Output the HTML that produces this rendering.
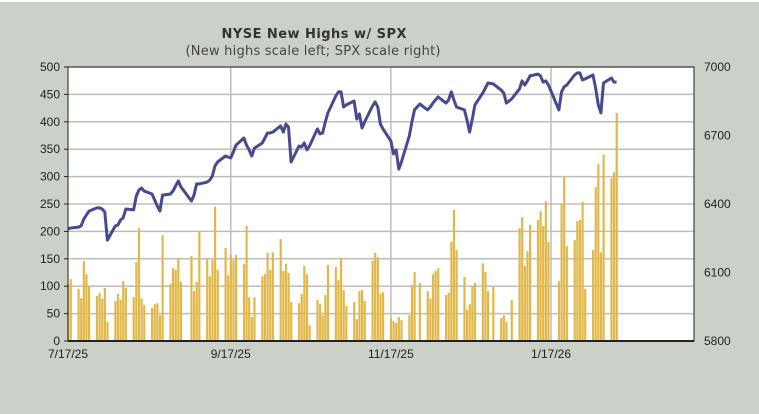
<!DOCTYPE html>
<html><head><meta charset="utf-8"><style>
html,body{margin:0;padding:0;background:#cbd0c9;}
svg{display:block;font-family:"Liberation Sans","DejaVu Sans",sans-serif;}
</style></head><body>
<svg id="chart" width="759" height="414" viewBox="0 0 759 414" xmlns="http://www.w3.org/2000/svg">
<rect x="0" y="0" width="759" height="414" fill="#cbd0c9"/>
<rect x="0" y="0" width="759" height="2" fill="#ffffff"/>
<text x="314" y="38" text-anchor="middle" font-family="DejaVu Sans, sans-serif" font-weight="bold" font-size="13" fill="#333" textLength="185">NYSE New Highs w/ SPX</text>
<text x="313" y="55" text-anchor="middle" font-family="DejaVu Sans, sans-serif" font-size="13" fill="#444" textLength="255">(New highs scale left; SPX scale right)</text>
<rect x="68" y="67" width="626" height="274" fill="#ffffff"/>
<g id="grid"></g><g id="bars"></g><g id="line"></g><g id="axes"></g>
</svg>
<script>
// Weekday series starting Monday 2025-07-14 (null = no trading / no data)
const startMonday = "2025-07-14";
const newHighs = [
null,null,null,105,113, 95,78,146,122,99, 82,88,77,97,35, 73,86,75,109,97,
80,144,206,78,66, 60,67,69,47,193, 104,133,130,151,108, null,155,91,108,201,
150,118,148,245,130, 170,120,157,148,157, 140,210,80,44,80, 118,122,161,130,162,
186,128,141,124,71, 69,86,137,122,29, 75,68,47,84,139, 135,111,151,93,64,
71,40,91,93,73, 146,161,153,86,89, 42,36,33,44,38, 47,102,126,null,106,
91,77,122,128,133, 84,88,181,239,166, 117,57,67,100,106, 142,126,91,null,99,
42,47,35,null,75, 206,226,137,164,212, 221,237,210,255,181, null,109,250,301,173,
184,219,221,254,95, 166,281,323,162,340, 297,308,416
];
const spx = [
null,null,null,6291,6295, 6299,6304,6334,6352,6369, 6383,6383,6378,6365,6242, 6304,6308,6330,6339,6378,
6374,6435,6461,6470,6457, 6444,6418,6391,6369,6439, 6444,6457,6479,6501,6475, null,6413,6439,6488,6488,
6496,6505,6523,6567,6584, 6610,6606,6602,6628,6658, 6689,6658,6637,6610,6645, 6667,6689,6711,6711,6715,
6742,6715,6750,6737,6584, 6654,6650,6667,6637,6654, 6729,6707,6711,6759,6799, 6873,6891,6891,6825,6834,
6851,6772,6794,6733,6759, 6829,6847,6825,6750,6729, 6676,6619,6637,6553,6584, 6698,6759,6812,null,6838,
6812,6825,6842,6856,6869, 6842,6856,6891,6856,6825, 6812,6768,6715,6772,6834, 6886,6908,6930,null,6926,
6899,6886,6842,null,6860, 6904,6939,6921,6939,6961, 6969,6961,6934,6939,6921, null,6812,6891,6913,6921,
6965,6974,6974,6943,6948, 6965,6908,6834,6799,6930, 6952,6934,6934
];
const leftTicks = [0,50,100,150,200,250,300,350,400,450,500];
const rightTicks = [5800,6100,6400,6700,7000];
const xTickLabels = ["7/17/25","9/17/25","11/17/25","1/17/26"];
const xTickDays = [0,62,123,184];

const NS="http://www.w3.org/2000/svg";
const X0=68,X1=694,Y0=67,Y1=341,PXDAY=2.625;
function xDay(d){return X0+d*PXDAY;}
function yLeft(v){return Y1-(v/500)*(Y1-Y0);}
function yRight(v){return Y1-((v-5800)/1200)*(Y1-Y0);}
function dayOfIndex(i){return Math.floor(i/5)*7+(i%5)-3;}
function mk(tag,attrs,parent){const e=document.createElementNS(NS,tag);for(const k in attrs)e.setAttribute(k,attrs[k]);parent.appendChild(e);return e;}
const grid=document.getElementById('grid'),bars=document.getElementById('bars'),line=document.getElementById('line'),axes=document.getElementById('axes');

leftTicks.forEach(t=>{
  const y=yLeft(t);
  if(t>0){const g=mk('line',{x1:X0,x2:X1,y1:y,y2:y,stroke:'#bdbdbd','stroke-width':1.5},grid);
  
  }
  const tk=mk('line',{x1:X0-4,x2:X0,y1:y,y2:y,stroke:'#222','stroke-width':1},axes);
  
  
  const tx=mk('text',{x:X0-8,y:y+4,'text-anchor':'end','font-size':12,fill:'#222'},axes);
  tx.textContent=t;
  
  
});
rightTicks.forEach(t=>{
  const y=yRight(t);
  const tx=mk('text',{x:704,y:y+4,'font-size':12,fill:'#222'},axes);
  tx.textContent=t;
  
  
});
xTickLabels.forEach((lab,i)=>{
  const x=xDay(xTickDays[i]);
  if(i>0){const g=mk('line',{x1:x,x2:x,y1:Y0,y2:Y1,stroke:'#bdbdbd','stroke-width':1.5},grid);
  
  }
  const tx=mk('text',{x:x,y:Y1+17,'text-anchor':'middle','font-size':12,fill:'#222'},axes);
  tx.textContent=lab;
  
  
});
newHighs.forEach((v,i)=>{
  if(v===null)return;
  const x=xDay(dayOfIndex(i));
  const b=mk('rect',{x:x-1,y:yLeft(v),width:2.2,height:Y1-yLeft(v),fill:'#e0b84a'},bars);
  
  
});
let pts=[];
spx.forEach((v,i)=>{if(v===null)return;pts.push(xDay(dayOfIndex(i)).toFixed(1)+','+yRight(v).toFixed(1));});
const pl=mk('polyline',{points:pts.join(' '),fill:'none',stroke:'#474a8f','stroke-width':3,'stroke-linejoin':'round'},line);


const fr=mk('rect',{x:X0,y:Y0,width:X1-X0,height:Y1-Y0,fill:'none',stroke:'#222','stroke-width':1},axes);


const ax=mk('line',{x1:X0,x2:X1,y1:Y1,y2:Y1,stroke:'#222','stroke-width':2},axes);


</script>
</body></html>
